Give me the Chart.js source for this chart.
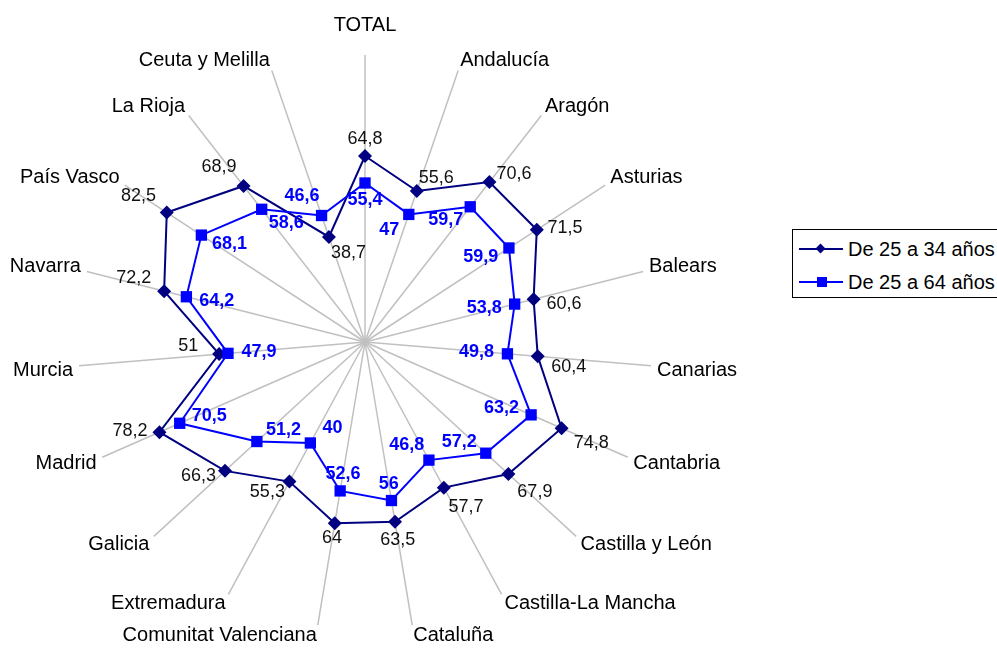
<!DOCTYPE html>
<html>
<head>
<meta charset="utf-8">
<script src="https://cdn.jsdelivr.net/npm/chart.js@4.4.1/dist/chart.umd.min.js"></script>
<style>
    body { margin: 0; background: #fff; overflow: hidden; }
    #page { position: relative; width: 997px; height: 648px; overflow: hidden; }
    #chart-box { position: absolute; left: -65px; top: 9px; width: 860px; height: 642px; }
    #legend {
        position: absolute; left: 792px; top: 229px; width: 230px; height: 69px;
        box-sizing: border-box; border: 1px solid #000; background: #fff;
        font: 20px "Liberation Sans", Arial, sans-serif; color: #000; z-index: 2;
    }
    #legend .row { position: absolute; left: 0; height: 22px; line-height: 22px; }
    #legend .key { position: absolute; left: 6px; top: 10px; width: 44px; height: 2px; }
    #legend .key i { position: absolute; left: 18px; }
    #legend .text { position: absolute; left: 55px; top: 0; white-space: nowrap; }
    .navy { background: #000080; }
    .navy i { top: -3px; width: 7px; height: 7px; background: #000080; transform: rotate(45deg); }
    .blue { background: #0000ff; }
    .blue i { top: -4px; width: 10px; height: 10px; background: #0000ff; }
</style>
</head>
<body>
<div id="page">
    <div id="chart-box"><canvas id="radar-chart"></canvas></div>
    <div id="legend">
        <div class="row" style="top:8px"><span class="key navy"><i></i></span><span class="text">De 25 a 34 años</span></div>
        <div class="row" style="top:41px"><span class="key blue"><i></i></span><span class="text">De 25 a 64 años</span></div>
    </div>
</div>
<script>
const categories = ['TOTAL', 'Andalucía', 'Aragón', 'Asturias', 'Balears', 'Canarias', 'Cantabria',
    'Castilla y León', 'Castilla-La Mancha', 'Cataluña', 'Comunitat Valenciana', 'Extremadura',
    'Galicia', 'Madrid', 'Murcia', 'Navarra', 'País Vasco', 'La Rioja', 'Ceuta y Melilla'];
const seriesNames = ['De 25 a 34 años', 'De 25 a 64 años'];
const youngValues = [64.8, 55.6, 70.6, 71.5, 60.6, 60.4, 74.8, 67.9, 57.7, 63.5, 64, 55.3, 66.3, 78.2, 51, 72.2, 82.5, 68.9, 38.7];
const adultValues = [55.4, 47.0, 59.7, 59.9, 53.8, 49.8, 63.2, 57.2, 46.8, 56, 52.6, 40, 51.2, 70.5, 47.9, 64.2, 68.1, 58.6, 46.6];

const FONT = '"Liberation Sans", Arial, sans-serif';

// etiqueta con coma decimal
function formatValue(v) {
    return (Number.isInteger(v) ? String(v) : v.toFixed(1)).replace('.', ',');
}

// valores junto a cada punto: la serie exterior hacia fuera, la interior hacia dentro
const valueLabels = {
    id: 'valueLabels',
    afterDatasetsDraw(chart) {
        const ctx = chart.ctx;
        const scale = chart.scales.r;
        const sets = chart.data.datasets;
        sets.forEach((ds, i) => {
            const meta = chart.getDatasetMeta(i);
            ctx.save();
            ctx.font = (i === 0 ? '' : 'bold ') + '18px ' + FONT;
            ctx.fillStyle = i === 0 ? '#111' : '#0000ff';
            ctx.textAlign = 'center';
            ctx.textBaseline = 'middle';
            meta.data.forEach((pt, j) => {
                const dir = ds.data[j] >= sets[1 - i].data[j] ? 1 : -1;
                const dx = pt.x - scale.xCenter;
                const dy = pt.y - scale.yCenter;
                const len = Math.hypot(dx, dy) || 1;
                const ux = dx / len, uy = dy / len;
                const sx = Math.abs(ux) < 0.2 ? 0 : Math.sign(ux);
                const x = pt.x + dir * (ux * 17 + sx * 14);
                const y = pt.y + dir * uy * 17 + (dir > 0 ? ux * 9 : 0);
                ctx.fillText(formatValue(ds.data[j]), x, y);
            });
            ctx.restore();
        });
    }
};

function radarChart() {
    const ctx = document.getElementById('radar-chart');
    new Chart(ctx, {
        type: 'radar',
        data: {
            labels: categories,
            datasets: [
                {
                    label: seriesNames[0],
                    data: youngValues,
                    borderColor: '#000080',
                    backgroundColor: '#000080',
                    borderWidth: 2,
                    fill: false,
                    pointStyle: 'rectRot',
                    pointRadius: 7,
                    pointBorderWidth: 0,
                    order: 1,
                },
                {
                    label: seriesNames[1],
                    data: adultValues,
                    borderColor: '#0000ff',
                    backgroundColor: '#0000ff',
                    borderWidth: 2,
                    fill: false,
                    pointStyle: 'rect',
                    pointRadius: 8,
                    pointBorderWidth: 0,
                    order: 0,
                },
            ],
        },
        options: {
            responsive: true,
            maintainAspectRatio: false,
            animation: false,
            elements: { line: { tension: 0 } },
            plugins: {
                legend: { display: false },
                tooltip: { enabled: false },
            },
            scales: {
                r: {
                    min: 0,
                    max: 100,
                    ticks: { display: false },
                    grid: { display: false },
                    angleLines: { color: '#c0c0c0', lineWidth: 1.5 },
                    pointLabels: {
                        color: '#000',
                        font: { family: FONT, size: 20, lineHeight: '8px' },
                        padding: (c) => c.index === 0 ? 26 : 6,
                    },
                },
            },
        },
        plugins: [valueLabels],
    });
}

radarChart();
</script>
</body>
</html>
